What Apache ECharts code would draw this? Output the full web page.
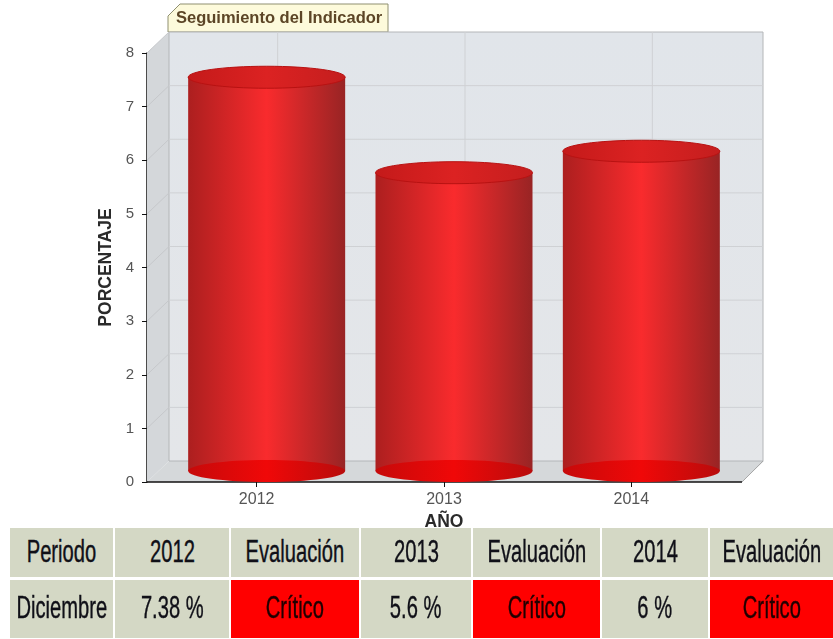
<!DOCTYPE html>
<html>
<head>
<meta charset="utf-8">
<script src="https://cdn.jsdelivr.net/npm/echarts@6/dist/echarts.min.js"></script>
<style>
  html, body { margin: 0; padding: 0; background: #fff; }
  #chart { position: absolute; left: 0; top: 0; width: 833px; height: 639px; }
  #tabla { position: absolute; left: 0; top: 0; width: 833px; height: 639px; pointer-events: none; }
  #tabla div {
    position: absolute; display: flex; align-items: center; justify-content: center;
    background: #d4d8c5; color: #101018; overflow: hidden; white-space: nowrap;
    font-family: "Liberation Sans", sans-serif; font-size: 31px;
    -webkit-text-stroke: 0.4px #101018;
  }
  #tabla div span { display: inline-block; transform: translateY(-1px) scaleX(0.65); }
  #tabla div.critico { background: #ff0000; color: #200000; -webkit-text-stroke: 0.4px #200000; }
</style>
</head>
<body>
<div id="chart"></div>
<div id="tabla"></div>
<script>
const years = ['2012', '2013', '2014'];
const values = [7.38, 5.6, 6];
const yTicks = [0, 1, 2, 3, 4, 5, 6, 7, 8];

const headerRow = ['Periodo', '2012', 'Evaluación', '2013', 'Evaluación', '2014', 'Evaluación'];
const dataRow = ['Diciembre', '7.38 %', 'Crítico', '5.6 %', 'Crítico', '6 %', 'Crítico'];
const columnEdges = [10, 115, 231, 361, 473, 602, 710, 835];

// 3d look of the plot box, in pixels
const depthX = 22;
const depthY = 21;
const overhangLeft = 16;
const overhangRight = 17;
const cylWidth = 157;
const cylRy = 11;

const tabla = document.getElementById('tabla');
function addRow(cells, top, height) {
  cells.forEach(function (text, i) {
    const d = document.createElement('div');
    const s = document.createElement('span');
    s.textContent = text;
    d.appendChild(s);
    d.style.left = columnEdges[i] + 'px';
    d.style.top = top + 'px';
    d.style.width = (columnEdges[i + 1] - columnEdges[i] - 2) + 'px';
    d.style.height = height + 'px';
    if (text === 'Crítico') d.className = 'critico';
    tabla.appendChild(d);
  });
}
addRow(headerRow, 528, 49);
addRow(dataRow, 580, 58);

function sideGradient(edgeL, mid, edgeR) {
  return {
    type: 'linear', x: 0, y: 0, x2: 1, y2: 0,
    colorStops: [
      { offset: 0, color: edgeL },
      { offset: 0.5, color: mid },
      { offset: 1, color: edgeR }
    ]
  };
}

// walls, floor and grid lines of the box
function renderBox(params, api) {
  const cs = params.coordSys;
  const l = cs.x - overhangLeft;
  const r = cs.x + cs.width + overhangRight;
  const b = cs.y + cs.height;
  const t = cs.y;
  const children = [
    { type: 'polygon', shape: { points: [[l, t], [l + depthX, t - depthY], [l + depthX, b - depthY], [l, b]] }, style: { fill: '#d4d7da' } },
    { type: 'polygon', shape: { points: [[l, b], [l + depthX, b - depthY], [r + depthX, b - depthY], [r, b]] }, style: { fill: '#d5d8da' } },
    { type: 'rect', shape: { x: l + depthX, y: t - depthY, width: r - l - 1, height: b - t }, style: { fill: { type: 'linear', x: 0, y: 0, x2: 0, y2: 1, colorStops: [{ offset: 0, color: '#e1e5ea' }, { offset: 1, color: '#e4e6e9' }] }, stroke: '#b4b6b8', lineWidth: 1 } },
    { type: 'line', shape: { x1: r, y1: b, x2: r + depthX - 1, y2: b - depthY }, style: { stroke: '#a8a8a8', lineWidth: 1 } },
    { type: 'line', shape: { x1: l, y1: b, x2: r, y2: b }, style: { stroke: '#111', lineWidth: 1.5 } }
  ];
  yTicks.forEach(function (v) {
    const y = api.coord([0, v])[1];
    if (v > 0 && v < 8) {
      children.push({ type: 'line', shape: { x1: l + depthX, y1: y - depthY, x2: r + depthX - 1, y2: y - depthY }, style: { stroke: '#cfd1d4', lineWidth: 1 } });
    }
    if (v > 0) {
      children.push({ type: 'line', shape: { x1: l, y1: y, x2: l + depthX, y2: y - depthY }, style: { stroke: '#c6c8cb', lineWidth: 1 } });
    }
  });
  years.forEach(function (y, i) {
    const x = api.coord([i, 0])[0] + depthX - 1;
    children.push({ type: 'line', shape: { x1: x, y1: t - depthY, x2: x, y2: b - depthY }, style: { stroke: '#cfd1d4', lineWidth: 1 } });
  });
  return { type: 'group', children: children };
}

function renderCylinder(params, api) {
  const top = api.coord([api.value(0), api.value(1)]);
  const bottom = api.coord([api.value(0), 0]);
  const cx = top[0] + 10;
  const rx = cylWidth / 2;
  const topY = top[1] - 9;
  const botY = bottom[1] - 11;
  return {
    type: 'group',
    children: [
      {
        type: 'rect',
        shape: { x: cx - rx, y: topY, width: cylWidth, height: botY - topY },
        style: { fill: sideGradient('#ac1f1f', '#f92b2d', '#982424') }
      },
      {
        type: 'ellipse',
        shape: { cx: cx, cy: botY, rx: rx, ry: cylRy },
        style: { fill: sideGradient('#c60a0a', '#f00808', '#b80c0c') }
      },
      {
        type: 'ellipse',
        shape: { cx: cx, cy: topY, rx: rx, ry: cylRy },
        style: { fill: sideGradient('#c41a1a', '#dc2222', '#c41e1e'), stroke: '#b81212', lineWidth: 1 }
      }
    ]
  };
}

const chart = echarts.init(document.getElementById('chart'));
chart.setOption({
  animation: false,
  textStyle: { fontFamily: 'Liberation Sans' },
  title: {
    text: 'Seguimiento del Indicador',
    left: 171,
    top: 5,
    textStyle: { fontSize: 16.5, fontWeight: 'bold', color: '#5c4526', fontFamily: 'Liberation Sans' }
  },
  grid: { left: 163, right: 108, top: 53, bottom: 157 },
  xAxis: {
    type: 'category',
    data: years,
    name: 'AÑO',
    nameLocation: 'middle',
    nameGap: 29,
    nameTextStyle: { fontSize: 17.5, fontWeight: 'bold', color: '#2a2a2a', fontFamily: 'Liberation Sans' },
    axisLine: { show: false },
    axisTick: { show: true, alignWithLabel: true, length: 5, lineStyle: { color: '#111' } },
    axisLabel: { fontSize: 16, color: '#555', margin: 10 },
    splitLine: { show: false }
  },
  yAxis: {
    type: 'value',
    min: 0,
    max: 8,
    interval: 1,
    offset: 16,
    name: 'PORCENTAJE',
    nameLocation: 'middle',
    nameGap: 30,
    nameTextStyle: { fontSize: 17.5, fontWeight: 'bold', color: '#2a2a2a', fontFamily: 'Liberation Sans' },
    axisLine: { show: true, lineStyle: { color: '#111', width: 1.5 } },
    axisTick: { show: true, length: 5, lineStyle: { color: '#111' } },
    axisLabel: { fontSize: 15, color: '#555', margin: 13 },
    splitLine: { show: false }
  },
  graphic: [{
    type: 'polygon',
    z: 1,
    shape: { points: [[168, 32], [168, 16], [180, 4], [388, 4], [388, 32]] },
    style: { fill: '#fdfadb', stroke: '#8f8f70', lineWidth: 1 }
  }],
  series: [
    {
      type: 'custom',
      z: 1,
      clip: false,
      silent: true,
      renderItem: renderBox,
      data: [[0, 0]]
    },
    {
      type: 'custom',
      z: 3,
      clip: false,
      renderItem: renderCylinder,
      encode: { x: 0, y: 1 },
      data: values.map(function (v, i) { return [i, v]; })
    }
  ]
});
</script>
</body>
</html>
